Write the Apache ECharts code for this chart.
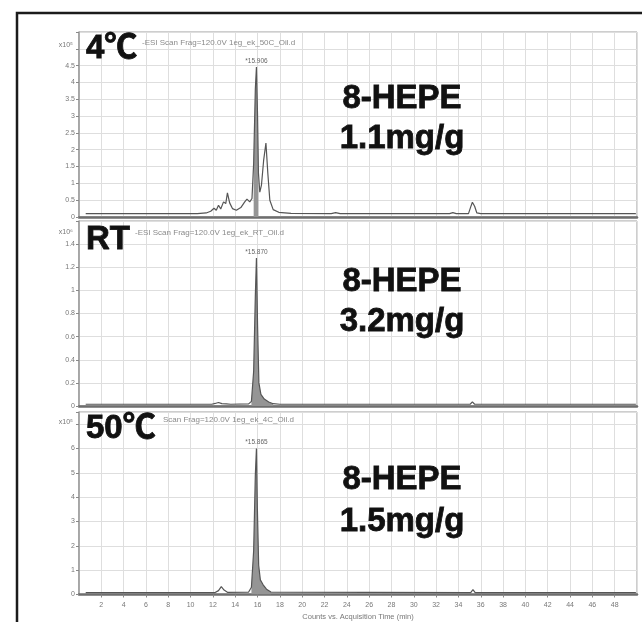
<!DOCTYPE html>
<html>
<head>
<meta charset="utf-8">
<script src="https://cdn.jsdelivr.net/npm/echarts@6/dist/echarts.min.js"></script>
<style>
  html, body { margin: 0; padding: 0; background: #fff; }
  #chart { width: 642px; height: 622px; }
</style>
</head>
<body>
<div id="chart"></div>
<script>
// ---- Data: LC-MS extracted chromatograms of 8-HEPE, three storage temperatures ----

// Retention time tick labels (min)
const timeTicks = ['2','4','6','8','10','12','14','16','18','20','22','24',
                   '26','28','30','32','34','36','38','40','42','44','46','48'];

// Sample names and quantified amounts
const samples   = ['4℃', 'RT', '50℃'];
const compound  = '8-HEPE';
const amounts   = ['1.1mg/g', '3.2mg/g', '1.5mg/g'];
const apexTimes = ['*15.906', '*15.870', '*15.865'];
const exponents = ['x10⁵', 'x10⁶', 'x10⁵'];
const headers   = [
  '-ESI Scan Frag=120.0V 1eg_ek_50C_Oil.d',
  '-ESI Scan Frag=120.0V 1eg_ek_RT_Oil.d',
  'Scan Frag=120.0V 1eg_ek_4C_Oil.d'
];

// Y tick labels per panel
const yTicks4C  = ['0','0.5','1','1.5','2','2.5','3','3.5','4','4.5'];
const yTicksRT  = ['0','0.2','0.4','0.6','0.8','1','1.2','1.4'];
const yTicks50C = ['0','1','2','3','4','5','6'];

// Traces: [time (min), counts]; 4℃ and 50℃ in x10^5, RT in x10^6
const trace4C = [
  [0.6,0.1],[10.6,0.1],[11.4,0.12],[11.8,0.17],[12.1,0.26],[12.3,0.2],[12.5,0.35],
  [12.7,0.24],[12.95,0.45],[13.05,0.5],[13.15,0.4],[13.3,0.72],[13.5,0.42],[13.75,0.25],
  [14.1,0.2],[14.5,0.28],[14.85,0.45],[15.05,0.53],[15.3,0.45],[15.5,0.55],[15.65,1.6],
  [15.8,3.8],[15.9,4.46],[16.0,3.0],[16.08,1.3],[16.2,0.74],[16.35,0.95],[16.55,1.7],
  [16.75,2.2],[16.92,1.3],[17.1,0.5],[17.4,0.22],[17.9,0.14],[19.0,0.11],[22.6,0.1],
  [23.0,0.13],[23.4,0.1],[33.2,0.1],[33.5,0.13],[33.8,0.1],[34.9,0.1],[35.1,0.3],
  [35.25,0.44],[35.45,0.32],[35.65,0.12],[36.0,0.1],[49.9,0.1]
];
const traceRT = [
  [0.6,0.015],[11.9,0.015],[12.2,0.022],[12.5,0.03],[12.8,0.02],[13.2,0.018],[13.6,0.015],
  [15.2,0.018],[15.45,0.04],[15.65,0.3],[15.8,0.95],[15.9,1.28],[16.0,0.7],[16.12,0.2],
  [16.3,0.1],[16.6,0.06],[17.0,0.035],[17.4,0.02],[18.0,0.015],[35.05,0.015],[35.25,0.035],
  [35.45,0.015],[49.9,0.015]
];
const trace50C = [
  [0.6,0.08],[12.2,0.08],[12.5,0.16],[12.75,0.32],[13.0,0.18],[13.3,0.09],[15.2,0.1],
  [15.45,0.3],[15.65,1.8],[15.8,4.9],[15.9,6.0],[15.98,3.6],[16.1,1.2],[16.25,0.6],
  [16.5,0.4],[16.8,0.22],[17.2,0.1],[35.1,0.08],[35.3,0.2],[35.5,0.08],[49.9,0.08]
];

// Integrated (shaded) windows of the 8-HEPE peak, min
const integ4C  = [15.6, 16.1];
const integRT  = [15.4, 17.4];
const integ50C = [15.4, 17.2];

// ---- Layout ----
const traces  = [trace4C, traceRT, trace50C];
const ticks   = [yTicks4C, yTicksRT, yTicks50C];
const integ   = [integ4C, integRT, integ50C];
const panels  = [
  { top: 32,  height: 185, max: 5.5, step: 0.5 },
  { top: 221, height: 185, max: 1.6, step: 0.2 },
  { top: 412, height: 183, max: 7.5, step: 1 }
];
const LEFT = 79, RIGHT = 5;
const labelFont = "'Liberation Sans', Arial, 'Noto Sans CJK JP', sans-serif";
const GRID_COLOR = '#dedede';

const grid = panels.map(p => ({
  left: LEFT, right: RIGHT, top: p.top, height: p.height,
  show: true, backgroundColor: '#fff', borderColor: '#9c9c9c', borderWidth: 1
}));

const xAxis = panels.map((p, i) => ({
  type: 'value', gridIndex: i, min: 0, max: 50, interval: 2,
  splitLine: { show: true, lineStyle: { color: GRID_COLOR, width: 1 } },
  axisLine: { show: true, onZero: false, lineStyle: { color: '#6e6e6e', width: 2.5 } },
  axisTick: { show: i === 2, length: 3, lineStyle: { color: '#888' } },
  axisLabel: {
    show: i === 2, fontSize: 7, color: '#777', margin: 7, fontFamily: labelFont,
    showMinLabel: false, showMaxLabel: false,
    formatter: v => timeTicks.includes(String(v)) ? String(v) : ''
  },
  name: i === 2 ? 'Counts vs. Acquisition Time (min)' : '',
  nameLocation: 'middle', nameGap: 19,
  nameTextStyle: { fontSize: 7.5, color: '#777', fontFamily: labelFont }
}));

const yAxis = panels.map((p, i) => ({
  type: 'value', gridIndex: i, min: 0, max: p.max, interval: p.step,
  splitLine: { show: true, lineStyle: { color: GRID_COLOR, width: 1 } },
  axisLine: { show: true, lineStyle: { color: '#999', width: 1.5 } },
  axisTick: { show: true, length: 3, lineStyle: { color: '#888' } },
  axisLabel: {
    fontSize: 7, color: '#777', margin: 4, fontFamily: labelFont,
    formatter: v => {
      const hit = ticks[i].find(t => Math.abs(Number(t) - v) < 1e-6);
      return hit === undefined ? '' : hit;
    }
  }
}));

const series = [];
traces.forEach((tr, i) => {
  // shaded integration area under the 8-HEPE peak
  series.push({
    type: 'line', xAxisIndex: i, yAxisIndex: i, z: 2,
    data: tr.filter(d => d[0] >= integ[i][0] && d[0] <= integ[i][1]),
    symbol: 'none', silent: true,
    lineStyle: { width: 0 },
    areaStyle: { color: '#959595', opacity: 1 }
  });
  // chromatogram trace
  series.push({
    type: 'line', xAxisIndex: i, yAxisIndex: i, z: 3,
    data: tr, symbol: 'none',
    lineStyle: { color: '#555', width: 1.2 },
    markPoint: {
      symbol: 'circle', symbolSize: 0, silent: true,
      label: {
        show: true, position: 'top', distance: 3, formatter: apexTimes[i],
        fontSize: 6.5, color: '#666', fontFamily: labelFont
      },
      data: [{ type: 'max', valueDim: 'y' }]
    }
  });
});

// Panel annotations
const graphic = [
  { type: 'rect', z: 100, silent: true,
    shape: { x: 17, y: 13, width: 700, height: 700 },
    style: { fill: 'none', stroke: '#1b1b1b', lineWidth: 2.5 } }
];
const sampleY   = [49, 240, 429];
const headerPos = [[142, 43], [135, 233], [163, 420]];
const expY      = [45, 232, 422];
const nameY     = [99, 282, 480];
const amountY   = [139, 322, 522];

panels.forEach((p, i) => {
  graphic.push({
    type: 'text', x: headerPos[i][0], y: headerPos[i][1], z: 50, silent: true,
    style: { text: headers[i], fill: '#8a8a8a', font: '8px ' + labelFont,
             align: 'left', verticalAlign: 'middle', textAlign: 'left', textVerticalAlign: 'middle' }
  });
  graphic.push({
    type: 'text', x: 86, y: sampleY[i], z: 60, silent: true,
    style: { text: samples[i], fill: '#111', font: 'bold 33px ' + labelFont,
             stroke: '#111', lineWidth: 0.8,
             align: 'left', verticalAlign: 'middle', textAlign: 'left', textVerticalAlign: 'middle' }
  });
  graphic.push({
    type: 'text', x: 73, y: expY[i], z: 50, silent: true,
    style: { text: exponents[i], fill: '#777', font: '7px ' + labelFont,
             align: 'right', verticalAlign: 'middle', textAlign: 'right', textVerticalAlign: 'middle' }
  });
  graphic.push({
    type: 'text', x: 402, y: nameY[i], z: 60, silent: true,
    style: { text: compound, fill: '#111', font: 'bold 33px ' + labelFont,
             stroke: '#111', lineWidth: 0.8,
             align: 'center', verticalAlign: 'middle', textAlign: 'center', textVerticalAlign: 'middle' }
  });
  graphic.push({
    type: 'text', x: 402, y: amountY[i], z: 60, silent: true,
    style: { text: amounts[i], fill: '#111', font: 'bold 33px ' + labelFont,
             stroke: '#111', lineWidth: 0.8,
             align: 'center', verticalAlign: 'middle', textAlign: 'center', textVerticalAlign: 'middle' }
  });
});

const chart = echarts.init(document.getElementById('chart'), null, { renderer: 'canvas' });
chart.setOption({
  backgroundColor: '#fff',
  animation: false,
  grid, xAxis, yAxis, series, graphic
});
</script>
</body>
</html>
